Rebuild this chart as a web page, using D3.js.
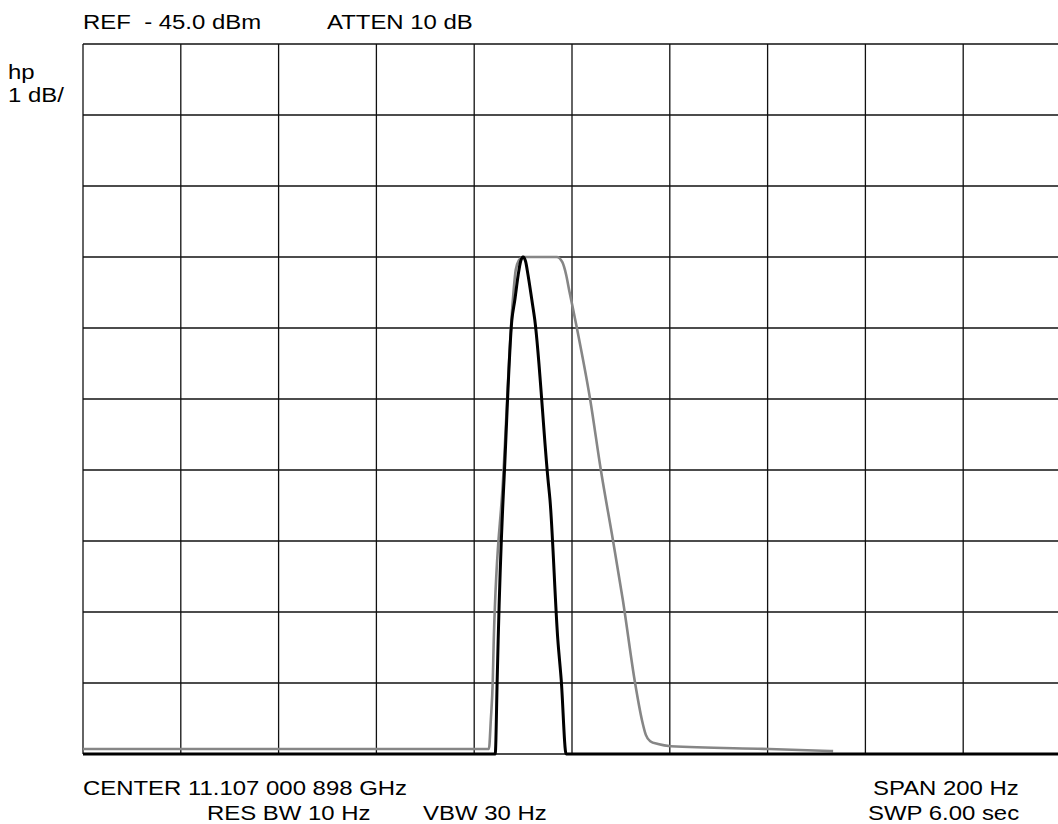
<!DOCTYPE html>
<html>
<head>
<meta charset="utf-8">
<script src="https://cdn.jsdelivr.net/npm/d3@7"></script>
<style>
  html, body { margin: 0; padding: 0; background: #fff; }
  svg { display: block; }
  text { font-family: "Liberation Sans", Arial, sans-serif; fill: #000; white-space: pre; }
</style>
</head>
<body>
<script>
// Frequency offset from center (Hz) and level (dBm) for the two traces
const blackFreq = [-100, -15.7, -15.3, -15.1, -14.1, -13.9, -12.3, -11.7, -11.0, -10.5, -10.0, -9.5, -9.0, -8.2, -7.6, -4.9, -4.5, -2.9, -2.2, -1.2, 100];
const blackLevel = [-55.0, -55.0, -53.96, -53.4, -51.42, -51.14, -48.89, -48.61, -48.25, -48.06, -48.0, -48.06, -48.25, -48.61, -48.89, -51.14, -51.42, -53.39, -53.96, -55.0, -55.0];

const grayFreq = [-100, -17.0, -16.6, -16.2, -16.0, -14.1, -12.1, -11.5, -10.8, -10.2, -3.1, -2.0, -1.2, -0.6, 1.0, 3.7, 5.9, 8.4, 10.4, 12.9, 14.3, 15.1, 16.0, 17.6, 20.2, 40.3, 53.4];
const grayLevel = [-54.93, -54.93, -54.52, -53.96, -53.39, -51.14, -48.61, -48.18, -48.04, -48.0, -48.0, -48.07, -48.25, -48.46, -49.0, -50.0, -51.0, -52.0, -52.83, -54.0, -54.52, -54.73, -54.82, -54.86, -54.89, -54.93, -54.96];

// Graticule
const freqTicks = [-100, -80, -60, -40, -20, 0, 20, 40, 60, 80, 100];
const levelTicks = [-45, -46, -47, -48, -49, -50, -51, -52, -53, -54, -55];

// Annotation text
const headerLabels = ["REF  - 45.0 dBm", "ATTEN 10 dB"];
const scaleLabels = ["hp", "1 dB/"];
const footerLeft = ["CENTER 11.107 000 898 GHz", "RES BW 10 Hz", "VBW 30 Hz"];
const footerRight = ["SPAN 200 Hz", "SWP 6.00 sec"];

const W = 1058, H = 824;
const svg = d3.select("body").append("svg").attr("width", W).attr("height", H);

const x = d3.scaleLinear().domain([-100, 100]).range([83, 1061]);
const y = d3.scaleLinear().domain([-55, -45]).range([754, 44]);

// grid
const grid = svg.append("g").attr("stroke", "#111").attr("stroke-width", 1.3).attr("fill", "none");
grid.selectAll("line.v").data(freqTicks).join("line")
  .attr("x1", d => x(d)).attr("x2", d => x(d))
  .attr("y1", y(-45)).attr("y2", y(-55));
grid.selectAll("line.h").data(levelTicks).join("line")
  .attr("x1", x(-100)).attr("x2", x(100))
  .attr("y1", d => y(d)).attr("y2", d => y(d));

const line = d3.line().x(d => x(d[0])).y(d => y(d[1])).curve(d3.curveMonotoneX);

svg.append("path")
  .datum(grayFreq.map((f, i) => [f, grayLevel[i]]))
  .attr("d", line)
  .attr("fill", "none").attr("stroke", "#868686").attr("stroke-width", 2.6)
  .attr("stroke-linejoin", "round");

svg.append("path")
  .datum(blackFreq.map((f, i) => [f, blackLevel[i]]))
  .attr("d", line)
  .attr("fill", "none").attr("stroke", "#000").attr("stroke-width", 3)
  .attr("stroke-linejoin", "round");

// instrument annotations; the lettering is slightly wide, so stretch horizontally
const fs = 21, sx = 1.14;
function label(str, px, py) {
  svg.append("text")
    .attr("font-size", fs)
    .attr("transform", `translate(${px},${py}) scale(${sx},1)`)
    .text(str);
}
label(headerLabels[0], 83, 29);
label(headerLabels[1], 327, 29);
label(scaleLabels[0], 8, 79);
label(scaleLabels[1], 8, 102);
label(footerLeft[0], 83, 795);
label(footerLeft[1], 207, 820);
label(footerLeft[2], 423, 820);
label(footerRight[0], 873, 795);
label(footerRight[1], 868, 820);
</script>
</body>
</html>
